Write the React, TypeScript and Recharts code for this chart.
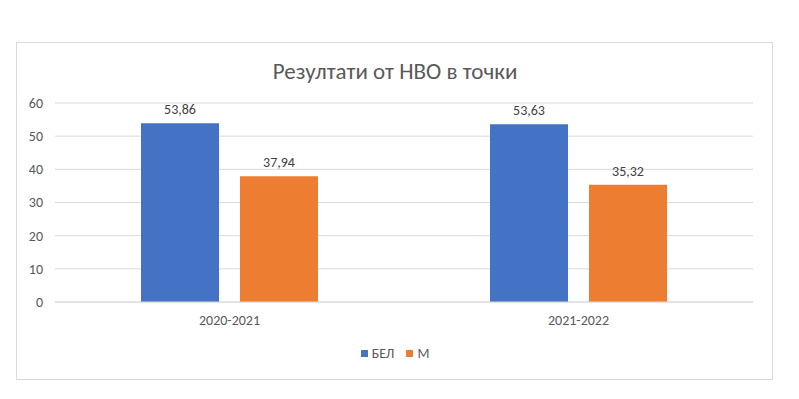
import { Bar, BarChart, CartesianGrid, LabelList, XAxis, YAxis } from "recharts";

const years = ["2020-2021", "2021-2022"];
const bel = [53.86, 53.63];
const math = [37.94, 35.32];
const yTicks = [0, 10, 20, 30, 40, 50, 60];
const seriesNames = ["БЕЛ", "М"];
const seriesColors = ["#4472C4", "#ED7D31"];

const data = years.map((year, i) => ({ year, bel: bel[i], math: math[i] }));

const font = "Calibri, Carlito, Lato, 'Liberation Sans', Arial, sans-serif";
const textColor = "#595959";

const fmt = (v: unknown) => String(v).replace(".", ",");

export default function App() {
  return (
    <div style={{ position: "absolute", left: 0, top: 0, width: 799, height: 399, background: "#fff", fontFamily: font }}>
      <div style={{ position: "absolute", left: 16, top: 42, width: 755, height: 336, border: "1px solid #d9d9d9" }} />
      <div style={{ position: "absolute", left: 0, top: 57, width: 790, textAlign: "center", fontSize: 23, color: textColor }}>
        Резултати от НВО в точки
      </div>
      <div style={{ position: "absolute", left: 0, top: 0 }}>
        <BarChart width={799} height={399} data={data} margin={{ top: 103, right: 46, bottom: 67, left: 0 }} barGap={21} barSize={78}>
          <CartesianGrid vertical={false} stroke="#d9d9d9" />
          <XAxis dataKey="year" height={30} axisLine={{ stroke: "#d9d9d9" }} tickLine={false} tickMargin={7} tick={{ fill: textColor, fontSize: 14, fontFamily: font }} />
          <YAxis width={55} domain={[0, 60]} ticks={yTicks} axisLine={false} tickLine={false} tickMargin={6} tick={{ fill: textColor, fontSize: 14, fontFamily: font }} />
          <Bar dataKey="bel" name={seriesNames[0]} fill={seriesColors[0]} isAnimationActive={false}>
            <LabelList dataKey="bel" position="top" offset={9} formatter={fmt} fill="#404040" fontSize={14} fontFamily={font} />
          </Bar>
          <Bar dataKey="math" name={seriesNames[1]} fill={seriesColors[1]} isAnimationActive={false}>
            <LabelList dataKey="math" position="top" offset={9} formatter={fmt} fill="#404040" fontSize={14} fontFamily={font} />
          </Bar>
        </BarChart>
      </div>
      <div style={{ position: "absolute", left: 0, top: 345, width: 790, display: "flex", justifyContent: "center", gap: 12, fontSize: 14, color: textColor }}>
        {seriesNames.map((name, i) => (
          <div key={name} style={{ display: "flex", alignItems: "center", gap: 4 }}>
            <span style={{ width: 7, height: 7, background: seriesColors[i], display: "inline-block" }} />
            <span>{name}</span>
          </div>
        ))}
      </div>
    </div>
  );
}
